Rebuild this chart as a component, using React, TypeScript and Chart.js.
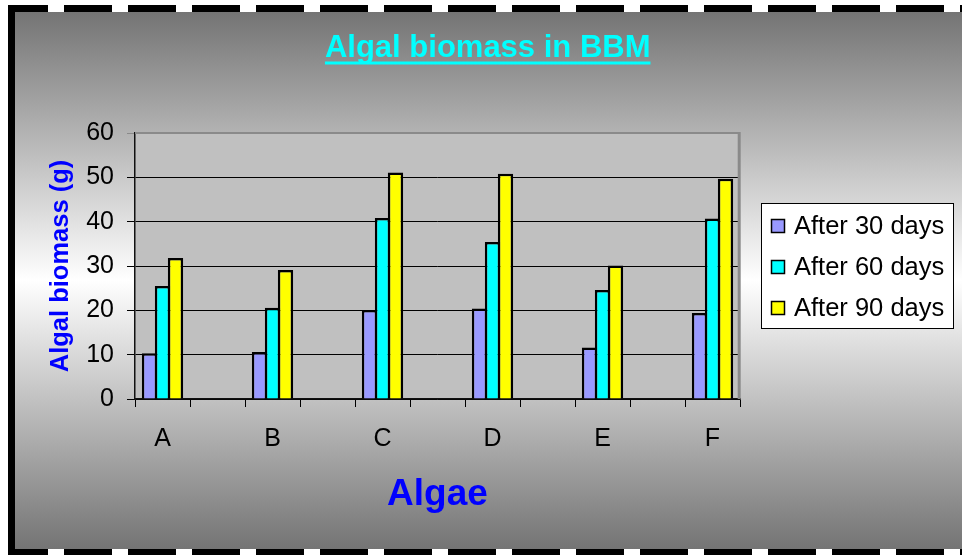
import { useEffect, useRef } from 'react';
import { Chart, registerables } from 'chart.js';

Chart.register(...registerables);

const categories = ['A', 'B', 'C', 'D', 'E', 'F'];
const after30 = [10.3, 10.6, 20.1, 20.4, 11.6, 19.4];
const after60 = [25.5, 20.6, 40.8, 35.4, 24.6, 40.7];
const after90 = [31.8, 29.1, 51.1, 50.8, 30.1, 49.7];
const seriesNames = ['After 30 days', 'After 60 days', 'After 90 days'];
const seriesColors = ['#9999FF', '#00FFFF', '#FFFF00'];
const yTicks = [0, 10, 20, 30, 40, 50, 60];
const titleText = 'Algal biomass in BBM';
const yTitle = 'Algal biomass (g)';
const xTitle = 'Algae';

const FONT = '"Liberation Sans", Arial, sans-serif';

// categories separated by empty slots (the original chart leaves a gap category between groups)
const spacedLabels = categories.flatMap((c, i) => (i < categories.length - 1 ? [c, ''] : [c]));
const spaced = (vals: number[]) =>
  vals.flatMap((v, i) => (i < vals.length - 1 ? [v, null] : [v])) as (number | null)[];

const framePlugin = {
  id: 'frame',
  beforeDraw(chart: any) {
    const { ctx, width, height, chartArea } = chart;
    ctx.save();
    const g = ctx.createLinearGradient(0, 12, 0, 549);
    g.addColorStop(0, '#747474');
    g.addColorStop(0.5, '#ffffff');
    g.addColorStop(1, '#747474');
    ctx.fillStyle = g;
    ctx.fillRect(15, 12, width - 15, 537);
    // border
    ctx.fillStyle = '#000';
    ctx.fillRect(8, 5, 7, height - 5);
    for (let k = 0; k * 64 < width; k++) {
      const x0 = Math.max(8, k * 64);
      const x1 = Math.min(width, k * 64 + 48);
      if (x1 > x0) {
        ctx.fillRect(x0, 5, x1 - x0, 7);
        ctx.fillRect(x0, 549, x1 - x0, height - 549);
      }
    }
    // plot background
    ctx.fillStyle = '#C0C0C0';
    ctx.fillRect(chartArea.left, chartArea.top, chartArea.right - chartArea.left, chartArea.bottom - chartArea.top);
    // title
    ctx.font = `bold 31px ${FONT}`;
    ctx.fillStyle = '#00FFFF';
    ctx.textAlign = 'center';
    ctx.textBaseline = 'alphabetic';
    const cx = 487.7;
    ctx.fillText(titleText, cx, 57);
    const w = ctx.measureText(titleText).width;
    ctx.fillRect(cx - w / 2, 61.5, w, 3);
    ctx.restore();
  },
  beforeDatasetsDraw(chart: any) {
    const { ctx, chartArea } = chart;
    ctx.save();
    ctx.strokeStyle = '#8a8a8a';
    ctx.lineWidth = 2;
    ctx.beginPath();
    ctx.moveTo(chartArea.left, chartArea.top);
    ctx.lineTo(chartArea.right, chartArea.top);
    ctx.stroke();
    ctx.lineWidth = 3;
    ctx.beginPath();
    ctx.moveTo(chartArea.right - 0.8, chartArea.top - 1);
    ctx.lineTo(chartArea.right - 0.8, chartArea.bottom);
    ctx.stroke();
    ctx.restore();
  },
  afterDraw(chart: any) {
    const { ctx } = chart;
    ctx.save();
    ctx.fillStyle = '#ffffff';
    ctx.fillRect(761, 203, 192, 125);
    ctx.strokeStyle = '#000';
    ctx.lineWidth = 1;
    ctx.strokeRect(761.5, 203.5, 192, 125);
    ctx.font = `25.5px ${FONT}`;
    ctx.textAlign = 'left';
    ctx.textBaseline = 'middle';
    chart.data.datasets.forEach((ds: any, i: number) => {
      const y = 226 + i * 41;
      ctx.fillStyle = ds.backgroundColor;
      ctx.fillRect(771, y - 7, 14, 14);
      ctx.lineWidth = 1.5;
      ctx.strokeStyle = '#000';
      ctx.strokeRect(771.5, y - 6.5, 13, 13);
      ctx.fillStyle = '#000';
      ctx.fillText(ds.label, 794, y + 1);
    });
    ctx.restore();
  },
};

export default function App() {
  const ref = useRef<HTMLCanvasElement | null>(null);

  useEffect(() => {
    if (!ref.current) return;
    const series = [after30, after60, after90];
    const chart = new Chart(ref.current, {
      type: 'bar',
      data: {
        labels: spacedLabels,
        datasets: series.map((vals, i) => ({
          label: seriesNames[i],
          data: spaced(vals),
          backgroundColor: seriesColors[i],
          borderColor: '#000000',
          borderWidth: { top: 2.5, left: 2.5, right: 2.5, bottom: 0 },
          borderSkipped: false,
          inflateAmount: 0,
          categoryPercentage: 0.709,
          barPercentage: 1.18,
        })),
      },
      options: {
        animation: false,
        responsive: false,
        devicePixelRatio: 1,
        layout: { padding: { left: 46, top: 133, right: 222, bottom: 38 } },
        plugins: {
          legend: { display: false },
          title: { display: false },
          tooltip: { enabled: false },
        },
        scales: {
          x: {
            offset: true,
            grid: {
              offset: true,
              drawOnChartArea: false,
              drawTicks: true,
              tickLength: 8,
              color: '#000',
              lineWidth: 1,
            },
            border: { display: true, color: '#111', width: 1.5 },
            ticks: {
              autoSkip: false,
              maxRotation: 0,
              minRotation: 0,
              padding: 17,
              color: '#000',
              font: { family: FONT, size: 25 },
            },
            title: {
              display: true,
              text: xTitle,
              color: '#0000FF',
              padding: 0,
              font: { family: FONT, size: 37, weight: 'bold' },
            },
            afterFit: (s: any) => {
              s.height = 118;
            },
          },
          y: {
            min: 0,
            max: 60,
            afterBuildTicks: (s: any) => {
              s.ticks = yTicks.map((v) => ({ value: v }));
            },
            grid: {
              color: (c: any) => (c.tick && c.tick.value === 60 ? '#8a8a8a' : '#000'),
              lineWidth: 1,
              drawTicks: true,
              tickLength: 8,
            },
            border: { display: true, color: '#111', width: 1.5 },
            ticks: {
              padding: 13,
              color: '#000',
              font: { family: FONT, size: 25 },
            },
            title: {
              display: true,
              text: yTitle,
              color: '#0000FF',
              padding: 0,
              font: { family: FONT, size: 25.5, weight: 'bold' },
            },
            afterFit: (s: any) => {
              s.width = 89;
            },
          },
        },
      },
      plugins: [framePlugin],
    });
    return () => chart.destroy();
  }, []);

  return (
    <div style={{ position: 'absolute', left: 0, top: 0, width: 962, height: 555 }}>
      <canvas ref={ref} width={962} height={555} style={{ display: 'block' }} />
    </div>
  );
}
